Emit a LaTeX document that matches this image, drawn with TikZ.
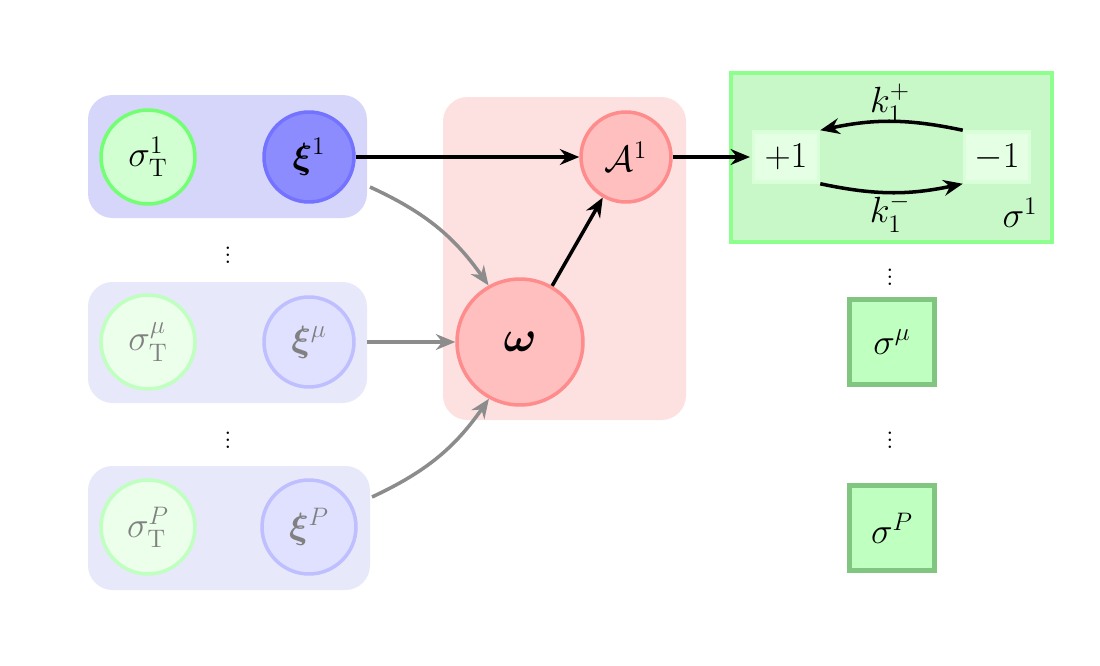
\documentclass[tikz,border=0pt]{standalone}
\usepackage{amsmath,bm}
\usetikzlibrary{arrows.meta}
\begin{document}
\begin{tikzpicture}[x=0.02cm,y=-0.02cm,
 grp/.style={rounded corners=14pt,draw=none},
 gc/.style={circle,minimum size=#1*0.04cm,inner sep=0pt,line width=2pt,font=\huge},
 sq/.style={draw=green!55!black!50,line width=2.6pt,fill=green!25,minimum size=1.7cm,font=\huge},
 ar/.style={-{Stealth[length=11pt,width=9pt]},line width=2pt},
 gar/.style={ar,gray!90}]
\useasboundingbox (0,0) rectangle (1100,666);
\fill[white] (0,0) rectangle (1100,666);
\definecolor{bA}{HTML}{D6D6FB}\definecolor{bB}{HTML}{E8E8FB}
\definecolor{pk}{HTML}{FDE0E0}\definecolor{gB}{HTML}{C8F8C8}
\fill[bA,grp] (88,95) rectangle (367,218);
\fill[bB,grp] (88,282) rectangle (367,403);
\fill[bB,grp] (88,466) rectangle (370,590);
\fill[pk,grp] (443,97) rectangle (686,420);
\node[draw=green!45,line width=2.4pt,fill=gB,minimum width=6.42cm,minimum height=3.38cm] (G) at (891.5,157.5) {};
\node[gc=47,draw=green!55,fill=green!18] (s1) at (148,157) {$\sigma_{\mathrm T}^1$};
\node[gc=45,draw=blue!55,fill=blue!45] (x1) at (309,157) {$\bm\xi^1$};
\node[gc=47,draw=green!25,fill=green!8,text=gray] (s2) at (148,342) {$\sigma_{\mathrm T}^\mu$};
\node[gc=45,draw=blue!25,fill=blue!12,text=gray] (x2) at (309,342) {$\bm\xi^\mu$};
\node[gc=47,draw=green!25,fill=green!8,text=gray] (s3) at (148,527) {$\sigma_{\mathrm T}^P$};
\node[gc=47,draw=blue!25,fill=blue!12,text=gray] (x3) at (309,527) {$\bm\xi^P$};
\node[gc=63,draw=red!45,fill=red!25,font=\Huge] (w) at (520,342) {$\bm\omega$};
\node[gc=45,draw=red!45,fill=red!25] (A) at (626,157) {$\mathcal A^1$};
\node[draw=green!15,line width=2pt,fill=green!10,minimum width=1.3cm,minimum height=1cm,font=\huge] (p) at (786,157) {$+1$};
\node[draw=green!15,line width=2pt,fill=green!10,minimum width=1.3cm,minimum height=1cm,font=\huge] (m) at (997,157) {$-1$};
\node[font=\huge] (kp) at (890,103) {$k_1^+$};
\node[font=\huge] (km) at (890,213) {$k_1^-$};
\node[font=\huge] (sl) at (1020,213) {$\sigma^1$};
\node[sq] (sm) at (892,342) {$\sigma^\mu$};
\node[sq] (sP) at (892,528) {$\sigma^P$};
\foreach \x/\y in {228/250,228/435,890/272,890/435}
 \node[font=\LARGE,inner sep=0pt] (d\x\y) at (\x,\y) {$\vdots$};
\coordinate (c1) at (370,187);\coordinate (c2) at (367,342);\coordinate (c3) at (372,497);
\coordinate (gin) at (750,157);
\draw[ar] (x1) -- (A);
\draw[ar] (A) -- (gin);
\draw[ar] (w) -- (A);
\draw[gar] (c1) to[bend left=15] (w);
\draw[gar] (c2) -- (w);
\draw[gar] (c3) to[bend right=15] (w);
\draw[ar] (m.north west) to[bend right=12] (p.north east);
\draw[ar] (p.south east) to[bend right=12] (m.south west);
\end{tikzpicture}
\end{document}
